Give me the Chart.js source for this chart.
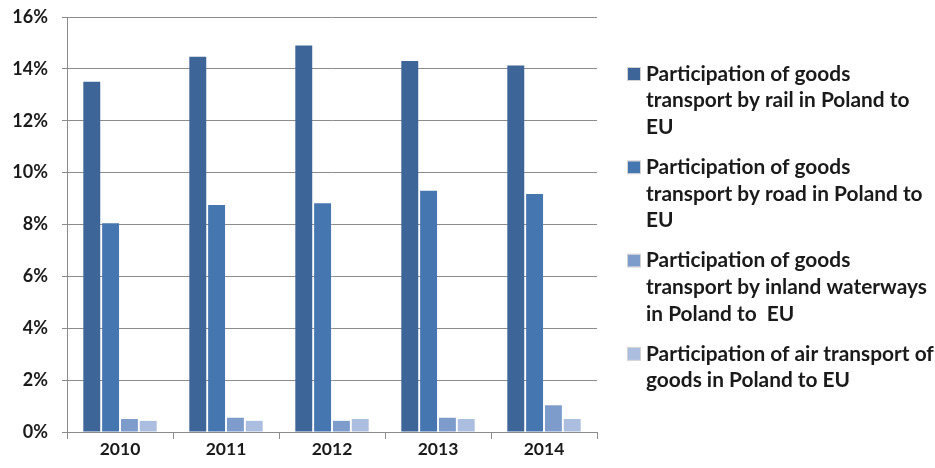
<!DOCTYPE html>
<html>
<head>
<meta charset="utf-8">
<script src="https://cdn.jsdelivr.net/npm/chart.js@4.4.1/dist/chart.umd.min.js"></script>
<style>
  html, body { margin: 0; padding: 0; background: #ffffff; }
  #wrap { width: 935px; height: 468px; position: relative; }
</style>
</head>
<body>
<div id="wrap"><canvas id="c" width="935" height="468"></canvas></div>
<script>
// ---- data ----
const years = ['2010', '2011', '2012', '2013', '2014'];
const railShare = [13.5, 14.47, 14.9, 14.3, 14.13];
const roadShare = [8.05, 8.75, 8.82, 9.3, 9.18];
const waterwaysShare = [0.5, 0.55, 0.43, 0.55, 1.03];
const airShare = [0.43, 0.43, 0.5, 0.5, 0.5];
const yTickValues = [0, 2, 4, 6, 8, 10, 12, 14, 16];
const legendLines = [
  ['Participation of goods', 'transport by rail in Poland to', 'EU'],
  ['Participation of goods', 'transport by road in Poland to', 'EU'],
  ['Participation of goods', 'transport by inland waterways', 'in Poland to  EU'],
  ['Participation of air transport of', 'goods in Poland to EU']
];
const seriesColors = ['#3d6597', '#4676b0', '#7d9bcb', '#abbedf'];

const FONT = 'Lato, "Liberation Sans", sans-serif';

const legendPlugin = {
  id: 'sideLegend',
  afterDraw(chart) {
    const ctx = chart.ctx;
    ctx.save();
    ctx.font = 'bold 17px ' + FONT;
    const w = ctx.measureText('transport by inland waterways').width;
    let size = 17 * 281 / w;
    size = Math.max(13, Math.min(22, size));
    ctx.font = 'bold ' + size.toFixed(2) + 'px ' + FONT;
    ctx.textBaseline = 'middle';
    ctx.textAlign = 'left';
    const lineH = 26.6;
    const gap = 13.5;
    let y = 74;
    chart.data.datasets.forEach((ds, i) => {
      const lines = legendLines[i];
      ctx.fillStyle = ds.backgroundColor;
      ctx.fillRect(628, y - 6, 12, 12);
      ctx.strokeStyle = 'rgba(200,200,200,0.8)';
      ctx.lineWidth = 1;
      ctx.strokeRect(627.5, y - 6.5, 13, 13);
      ctx.fillStyle = '#1a1a1a';
      lines.forEach((t, k) => ctx.fillText(t, 646, y + k * lineH));
      y += lines.length * lineH + gap;
    });
    ctx.restore();
  }
};

const gridColor = '#8c8c8c';

new Chart(document.getElementById('c'), {
  type: 'bar',
  data: {
    labels: years,
    datasets: [
      { label: legendLines[0].join(' '), data: railShare, backgroundColor: seriesColors[0] },
      { label: legendLines[1].join(' '), data: roadShare, backgroundColor: seriesColors[1] },
      { label: legendLines[2].join(' '), data: waterwaysShare, backgroundColor: seriesColors[2] },
      { label: legendLines[3].join(' '), data: airShare, backgroundColor: seriesColors[3] }
    ]
  },
  options: {
    responsive: false,
    animation: false,
    layout: { padding: { top: 17, right: 338, left: 0, bottom: 0 } },
    datasets: { bar: { categoryPercentage: 0.71, barPercentage: 0.9, borderWidth: 0 } },
    plugins: {
      legend: { display: false },
      tooltip: { enabled: false }
    },
    scales: {
      x: {
        grid: { drawOnChartArea: false, drawTicks: true, tickLength: 7, color: gridColor, offset: true },
        border: { color: gridColor },
        ticks: { color: '#1a1a1a', font: { family: FONT, weight: 'bold', size: 17.5 }, padding: 0 },
        afterFit(scale) { scale.height = 36; scale.paddingLeft = 0; scale.paddingRight = 0; }
      },
      y: {
        min: 0, max: 16,
        afterBuildTicks(scale) { scale.ticks = yTickValues.map(v => ({ value: v })); },
        grid: { color: gridColor, tickLength: 5 },
        border: { color: gridColor },
        ticks: {
          color: '#1a1a1a',
          font: { family: FONT, weight: 'bold', size: 18 },
          padding: 14,
          callback: v => v + '%'
        },
        afterFit(scale) { scale.width = 67; scale.paddingTop = 0; scale.paddingBottom = 0; }
      }
    }
  },
  plugins: [legendPlugin]
});
</script>
</body>
</html>
